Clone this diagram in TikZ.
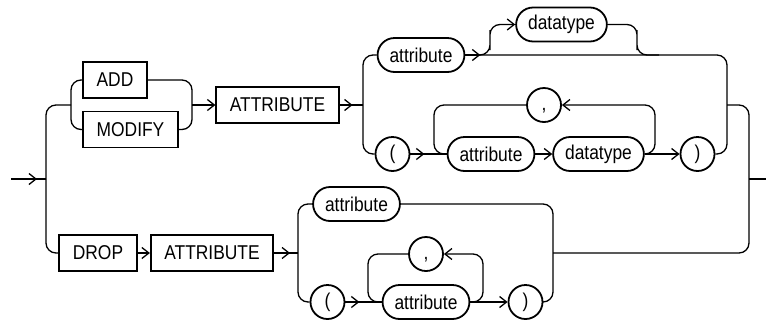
\documentclass[tikz,border=0pt]{standalone}
\usepackage{fontspec}
\newfontfamily\rrfont[FakeStretch=0.87]{Liberation Sans}
\usetikzlibrary{arrows.meta}

\begin{document}
\begin{tikzpicture}[x=1pt, y=-1pt, >={Straight Barb[length=7pt,width=11pt]}, line width=1.3pt,
    every node/.style={font=\rrfont\fontsize{20}{22}\selectfont},
    kw/.style={draw, line width=1.8pt, minimum height=36pt, inner xsep=13.5pt, inner ysep=0pt},
    term/.style={draw, line width=1.8pt, rounded corners=17pt, minimum height=34pt, inner xsep=12pt, inner ysep=0pt},
    sym/.style={draw, line width=1.8pt, circle, minimum size=34pt, inner sep=0pt, text height=10pt, text depth=0pt},
    rc/.style={rounded corners=10pt}]
    \useasboundingbox (0,0) rectangle (766,322);

    % keywords
    \node[kw] (add) at (115,80) {ADD};
    \node[kw] (modify) at (130.5,129.5) {MODIFY};
    \node[kw] (attrkw) at (277.5,105) {ATTRIBUTE};
    \node[kw] (drop) at (98,253) {DROP};
    \node[kw] (attrkwb) at (212,253) {ATTRIBUTE};

    % upper branch
    \node[term] (attra) at (421,55) {attribute};
    \node[term] (dta) at (561.5,24.5) {datatype};
    \node[sym] (lpa) at (392.5,154) {(};
    \node[term] (attrb) at (491,154) {attribute};
    \node[term] (dtb) at (598.5,154) {datatype};
    \node[sym] (cma) at (544,105) {,};
    \node[sym] (rpa) at (697.5,154) {)};

    % lower branch
    \node[term] (attrc) at (356.5,204) {attribute};
    \node[sym] (lpb) at (327.5,302) {(};
    \node[term] (attrd) at (426,302) {attribute};
    \node[sym] (cmb) at (426,254) {,};
    \node[sym] (rpb) at (525.5,302) {)};

    % junctions
    \coordinate (in) at (11,179);
    \coordinate (j0) at (46,179);
    \coordinate (a1) at (71,105);
    \coordinate (a2) at (192,105);
    \coordinate (s1) at (363,105);
    \coordinate (c2) at (490,40);
    \coordinate (d1) at (637,40);
    \coordinate (b2) at (727,105);
    \coordinate (l1) at (434,130);
    \coordinate (l2) at (655,130);
    \coordinate (e1) at (749,179);
    \coordinate (out) at (766,179);
    \coordinate (s2) at (298,253);
    \coordinate (b3) at (553,253);
    \coordinate (l3) at (368,280);
    \coordinate (l4) at (483,280);

    \draw (in) -- (j0);
    \draw[->] (in) -- ++(26,0);
    \draw[rc] (j0) |- (a1);
    \draw[rc] (j0) |- (drop.west);
    \draw[rc] (add.west) -| (a1) |- (modify.west);
    \draw[rc] (add.east) -| (a2) |- (modify.east);
    \draw[->] (a2) -- (attrkw.west);

    \draw (attrkw.east) -- (s1);
    \draw[->] (attrkw.east) -- ++(13,0);
    \draw[rc] (attra.west) -| (s1) |- (lpa.west);
    \draw[rc] (attra.east) -| (b2) |- (rpa.east);
    \draw[->] (attra.east) -- ++(15,0);
    \draw[rc,->] ([xshift=11pt]attra.east) -| (c2) |- (dta.west);
    \draw[rc] (dta.east) -| (d1) |- ([xshift=22pt]d1 |- attra.east);
    \draw (lpa.east) -- (attrb.west);
    \draw[->] (lpa.east) -- ++(14,0);
    \draw[rc] (cma.west) -| (l1) |- (attrb.west);
    \draw[->] (attrb) -- (dtb);
    \draw[rc,->] (dtb.east) -| (l2) |- (cma.east);
    \draw[->] (dtb) -- (rpa);

    \draw[rc] (b2) -| (e1) |- (b3);
    \draw (e1) -- (out);

    \draw[->] (drop) -- (attrkwb);
    \draw (attrkwb.east) -- (s2);
    \draw[->] (attrkwb.east) -- ++(16,0);
    \draw[rc] (attrc.west) -| (s2) |- (lpb.west);
    \draw[rc] (attrc.east) -| (b3) |- (rpb.east);
    \draw (lpb.east) -- (attrd.west);
    \draw[->] (lpb.east) -- ++(14,0);
    \draw[rc] (cmb.west) -| (l3) |- (attrd.west);
    \draw[rc,->] (attrd.east) -| (l4) |- (cmb.east);
    \draw[->] (attrd) -- (rpb);
\end{tikzpicture}
\end{document}
